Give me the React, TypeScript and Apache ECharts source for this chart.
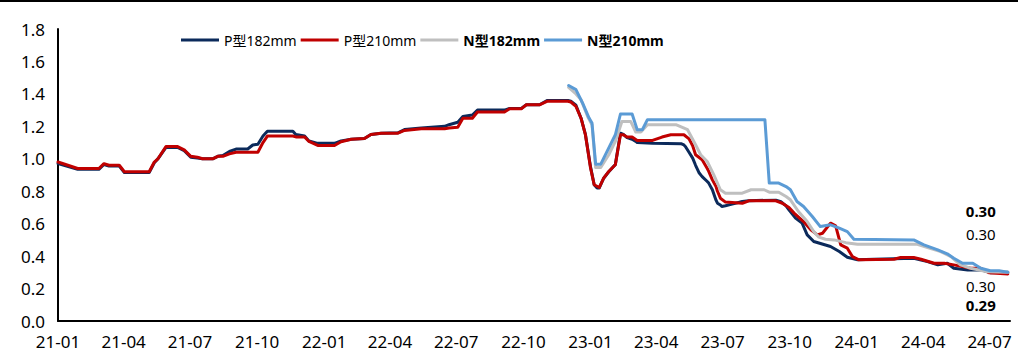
import React, { useEffect, useRef } from "react";
import * as echarts from "echarts";

const xTicks = ["21-01","21-04","21-07","21-10","22-01","22-04","22-07","22-10","23-01","23-04","23-07","23-10","24-01","24-04","24-07"];
const seriesNames = ["P型182mm", "P型210mm", "N型182mm", "N型210mm"];
const xStart = "2021-01-01";
const xEnd = "2024-07-29";

const p182: [string, number][] = [
  ["2021-01-01",0.97],["2021-01-28",0.935],["2021-02-26",0.935],["2021-03-05",0.965],["2021-03-12",0.955],["2021-03-26",0.955],
  ["2021-04-02",0.915],["2021-05-06",0.915],["2021-05-13",0.975],["2021-05-18",1.0],["2021-05-29",1.07],["2021-06-14",1.07],
  ["2021-06-23",1.05],["2021-07-02",1.01],["2021-07-11",1.005],["2021-07-18",1.0],["2021-08-01",1.0],["2021-08-08",1.015],
  ["2021-08-15",1.02],["2021-08-24",1.045],["2021-09-02",1.06],["2021-09-18",1.06],["2021-09-25",1.085],["2021-10-02",1.09],
  ["2021-10-09",1.14],["2021-10-15",1.17],["2021-11-19",1.17],["2021-11-23",1.15],["2021-12-05",1.14],["2021-12-11",1.11],
  ["2021-12-23",1.095],["2022-01-15",1.095],["2022-01-24",1.11],["2022-02-07",1.12],["2022-02-25",1.125],["2022-03-06",1.15],
  ["2022-03-20",1.158],["2022-04-12",1.16],["2022-04-21",1.18],["2022-05-14",1.19],["2022-06-15",1.2],["2022-06-21",1.21],
  ["2022-07-03",1.225],["2022-07-10",1.26],["2022-07-23",1.27],["2022-07-30",1.3],["2022-09-05",1.3],["2022-09-12",1.31],
  ["2022-09-28",1.31],["2022-10-05",1.333],["2022-10-23",1.333],["2022-11-03",1.36],["2022-12-01",1.36],["2022-12-05",1.355],
  ["2022-12-12",1.33],["2022-12-19",1.25],["2022-12-25",1.15],["2023-01-01",0.95],["2023-01-06",0.84],["2023-01-10",0.82],
  ["2023-01-13",0.82],["2023-01-19",0.88],["2023-01-26",0.92],["2023-02-04",0.965],["2023-02-11",1.158],["2023-02-15",1.15],
  ["2023-02-20",1.13],["2023-02-27",1.12],["2023-03-04",1.107],["2023-03-06",1.1],["2023-03-27",1.095],["2023-05-05",1.093],
  ["2023-05-09",1.085],["2023-05-11",1.076],["2023-05-16",1.04],["2023-05-21",1.004],["2023-05-25",0.96],["2023-05-30",0.912],
  ["2023-06-03",0.89],["2023-06-10",0.86],["2023-06-12",0.85],["2023-06-17",0.809],["2023-06-22",0.745],["2023-06-24",0.726],
  ["2023-06-28",0.715],["2023-06-30",0.706],["2023-07-05",0.71],["2023-07-10",0.716],["2023-07-28",0.737],["2023-08-06",0.742],
  ["2023-09-12",0.745],["2023-09-19",0.735],["2023-09-26",0.71],["2023-09-30",0.685],["2023-10-09",0.634],["2023-10-18",0.603],
  ["2023-10-25",0.531],["2023-11-03",0.49],["2023-11-26",0.459],["2023-12-08",0.428],["2023-12-19",0.393],["2024-01-02",0.377],
  ["2024-01-25",0.381],["2024-03-19",0.387],["2024-04-07",0.366],["2024-04-21",0.346],["2024-05-04",0.356],["2024-05-13",0.325],
  ["2024-06-01",0.315],["2024-06-19",0.315],["2024-07-02",0.298],["2024-07-26",0.30]
];

const p210: [string, number][] = [
  ["2021-01-01",0.98],["2021-01-28",0.94],["2021-02-26",0.94],["2021-03-05",0.97],["2021-03-12",0.96],["2021-03-26",0.96],
  ["2021-04-02",0.92],["2021-05-06",0.92],["2021-05-13",0.98],["2021-05-18",1.0],["2021-05-29",1.075],["2021-06-14",1.075],
  ["2021-06-23",1.055],["2021-07-02",1.015],["2021-07-11",1.01],["2021-07-18",1.0],["2021-08-01",1.0],["2021-08-08",1.015],
  ["2021-08-15",1.015],["2021-08-24",1.03],["2021-09-02",1.04],["2021-10-02",1.04],["2021-10-09",1.1],["2021-10-15",1.14],
  ["2021-11-19",1.14],["2021-11-23",1.135],["2021-12-05",1.135],["2021-12-11",1.107],["2021-12-23",1.082],["2022-01-15",1.082],
  ["2022-01-24",1.105],["2022-02-07",1.12],["2022-02-25",1.125],["2022-03-06",1.15],["2022-03-20",1.158],["2022-04-12",1.158],
  ["2022-04-21",1.175],["2022-05-14",1.185],["2022-06-15",1.185],["2022-06-21",1.19],["2022-07-03",1.195],["2022-07-10",1.25],
  ["2022-07-23",1.25],["2022-07-30",1.288],["2022-09-05",1.288],["2022-09-12",1.308],["2022-09-28",1.308],["2022-10-05",1.333],
  ["2022-10-23",1.333],["2022-11-03",1.355],["2022-12-01",1.355],["2022-12-05",1.35],["2022-12-12",1.323],["2022-12-19",1.25],
  ["2022-12-25",1.148],["2023-01-01",0.943],["2023-01-06",0.84],["2023-01-13",0.823],["2023-01-19",0.881],["2023-01-26",0.922],
  ["2023-02-04",0.963],["2023-02-11",1.148],["2023-02-15",1.148],["2023-02-20",1.134],["2023-02-27",1.134],["2023-03-06",1.113],
  ["2023-03-27",1.113],["2023-04-09",1.134],["2023-04-21",1.148],["2023-05-09",1.148],["2023-05-16",1.123],["2023-05-21",1.08],
  ["2023-05-25",1.025],["2023-06-03",0.994],["2023-06-10",0.94],["2023-06-12",0.922],["2023-06-17",0.87],["2023-06-22",0.829],
  ["2023-06-24",0.8],["2023-06-28",0.757],["2023-07-05",0.733],["2023-07-28",0.726],["2023-08-06",0.741],["2023-09-12",0.741],
  ["2023-09-21",0.726],["2023-09-30",0.7],["2023-10-07",0.665],["2023-10-20",0.613],["2023-10-30",0.562],["2023-11-08",0.531],
  ["2023-11-15",0.541],["2023-11-26",0.603],["2023-12-03",0.586],["2023-12-10",0.469],["2023-12-19",0.449],["2023-12-26",0.397],
  ["2024-01-04",0.377],["2024-02-21",0.381],["2024-03-01",0.391],["2024-03-19",0.391],["2024-03-29",0.381],["2024-04-16",0.356],
  ["2024-04-30",0.356],["2024-05-13",0.346],["2024-06-05",0.325],["2024-06-19",0.325],["2024-06-30",0.298],["2024-07-26",0.29]
];

const n182: [string, number][] = [
  ["2022-12-02",1.44],["2022-12-12",1.40],["2022-12-19",1.364],["2022-12-28",1.261],["2023-01-03",1.21],["2023-01-08",0.946],
  ["2023-01-15",0.946],["2023-01-26",1.025],["2023-02-04",1.107],["2023-02-13",1.23],["2023-02-25",1.23],["2023-03-04",1.165],
  ["2023-03-11",1.165],["2023-03-20",1.21],["2023-04-28",1.21],["2023-05-14",1.179],["2023-05-25",1.086],["2023-06-01",1.025],
  ["2023-06-10",0.983],["2023-06-19",0.901],["2023-06-28",0.809],["2023-07-05",0.788],["2023-07-28",0.788],["2023-08-09",0.809],
  ["2023-08-27",0.809],["2023-09-03",0.794],["2023-09-16",0.794],["2023-09-26",0.767],["2023-10-02",0.747],["2023-10-13",0.675],
  ["2023-10-25",0.613],["2023-11-03",0.551],["2023-11-10",0.517],["2023-11-19",0.504],["2023-12-01",0.5],["2023-12-17",0.483],
  ["2024-01-02",0.473],["2024-03-24",0.473],["2024-04-07",0.453],["2024-04-25",0.428],["2024-05-09",0.397],["2024-05-22",0.346],
  ["2024-06-05",0.325],["2024-06-28",0.304],["2024-07-26",0.30]
];

const n210: [string, number][] = [
  ["2022-12-02",1.452],["2022-12-12",1.426],["2022-12-21",1.344],["2022-12-30",1.251],["2023-01-03",1.22],["2023-01-08",0.967],
  ["2023-01-15",0.967],["2023-02-04",1.148],["2023-02-11",1.276],["2023-02-27",1.276],["2023-03-06",1.179],["2023-03-13",1.179],
  ["2023-03-20",1.241],["2023-08-28",1.241],["2023-09-03",0.85],["2023-09-16",0.85],["2023-09-26",0.829],["2023-10-02",0.809],
  ["2023-10-11",0.737],["2023-10-20",0.706],["2023-11-01",0.644],["2023-11-12",0.582],["2023-11-26",0.593],["2023-12-08",0.572],
  ["2023-12-19",0.551],["2023-12-28",0.504],["2024-03-19",0.5],["2024-04-02",0.469],["2024-04-21",0.438],["2024-05-04",0.414],
  ["2024-05-13",0.387],["2024-05-25",0.356],["2024-06-08",0.356],["2024-06-19",0.325],["2024-07-02",0.31],["2024-07-14",0.31],
  ["2024-07-26",0.30]
];

const FONT = '"Noto Sans", "Noto Sans CJK SC", sans-serif';
const DAY = 86400000;

function dayOf(s: string) {
  const [y, m, d] = s.split("-").map(Number);
  const [y0, m0, d0] = xStart.split("-").map(Number);
  return Math.round((Date.UTC(y, m - 1, d) - Date.UTC(y0, m0 - 1, d0)) / DAY);
}
function tickDay(t: string) {
  const [yy, mm] = t.split("-");
  return dayOf(`20${yy}-${mm}-01`);
}

export default function App() {
  const ref = useRef<HTMLDivElement>(null);
  useEffect(() => {
    if (!ref.current) return;
    const chart = echarts.init(ref.current, null, { renderer: "svg" });
    const colors = ["#0B2A5B", "#C00000", "#BFBFBF", "#5B9BD5"];
    const datas = [p182, p210, n182, n210];
    const labelCfg = [
      { dy: 14, bold: false },
      { dy: 31, bold: true },
      { dy: -38, bold: false },
      { dy: -61, bold: true },
    ];
    const tickDays = xTicks.map(tickDay);
    chart.setOption({
      animation: false,
      grid: { left: 58, right: 8, top: 29, bottom: 35, outerBoundsMode: "none" },
      graphic: [
        { type: "rect", left: 0, top: 0, shape: { width: 1018, height: 2 }, style: { fill: "#000" } },
      ],
      legend: {
        left: 176,
        top: 28,
        itemWidth: 38,
        itemHeight: 3,
        itemGap: 4,
        icon: "rect",
        textStyle: { fontFamily: FONT, fontSize: 14, color: "#000" },
        data: seriesNames.map((n, i) => ({
          name: n,
          textStyle: { fontWeight: i >= 2 ? "bold" : "normal" },
        })),
      },
      xAxis: {
        type: "value",
        min: 0,
        max: dayOf(xEnd),
        axisLine: { lineStyle: { color: "#000", width: 2 } },
        axisTick: { show: false },
        splitLine: { show: false },
        axisLabel: {
          customValues: tickDays,
          formatter: (v: number) => {
            const i = tickDays.indexOf(Math.round(v));
            return i >= 0 ? xTicks[i] : "";
          },
          fontFamily: FONT,
          fontSize: 17,
          color: "#000",
          margin: 12,
        },
      },
      yAxis: {
        type: "value",
        min: 0,
        max: 1.8,
        interval: 0.2,
        axisLine: { show: true, lineStyle: { color: "#000", width: 2 } },
        axisTick: { show: false },
        splitLine: { show: false },
        axisLabel: {
          formatter: (v: number) => v.toFixed(1),
          fontFamily: FONT,
          fontSize: 17,
          color: "#000",
          margin: 13,
        },
      },
      series: datas.map((d, i) => ({
        name: seriesNames[i],
        type: "line",
        data: d.map(([s, v]) => [dayOf(s), v]),
        symbol: "none",
        showSymbol: false,
        color: colors[i],
        lineStyle: { width: 3, color: colors[i], join: "round", cap: "round" },
        endLabel: {
          show: true,
          formatter: (p: any) => Number(p.value[1]).toFixed(2),
          align: "center",
          verticalAlign: "middle",
          offset: [-35, labelCfg[i].dy],
          fontFamily: FONT,
          fontSize: 15,
          lineHeight: 15,
          fontWeight: labelCfg[i].bold ? "bold" : "normal",
          color: "#000",
        },
      })),
    });
    return () => chart.dispose();
  }, []);
  return (
    <div
      ref={ref}
      style={{ position: "fixed", left: 0, top: 0, width: 1018, height: 356, background: "#fff" }}
    />
  );
}
